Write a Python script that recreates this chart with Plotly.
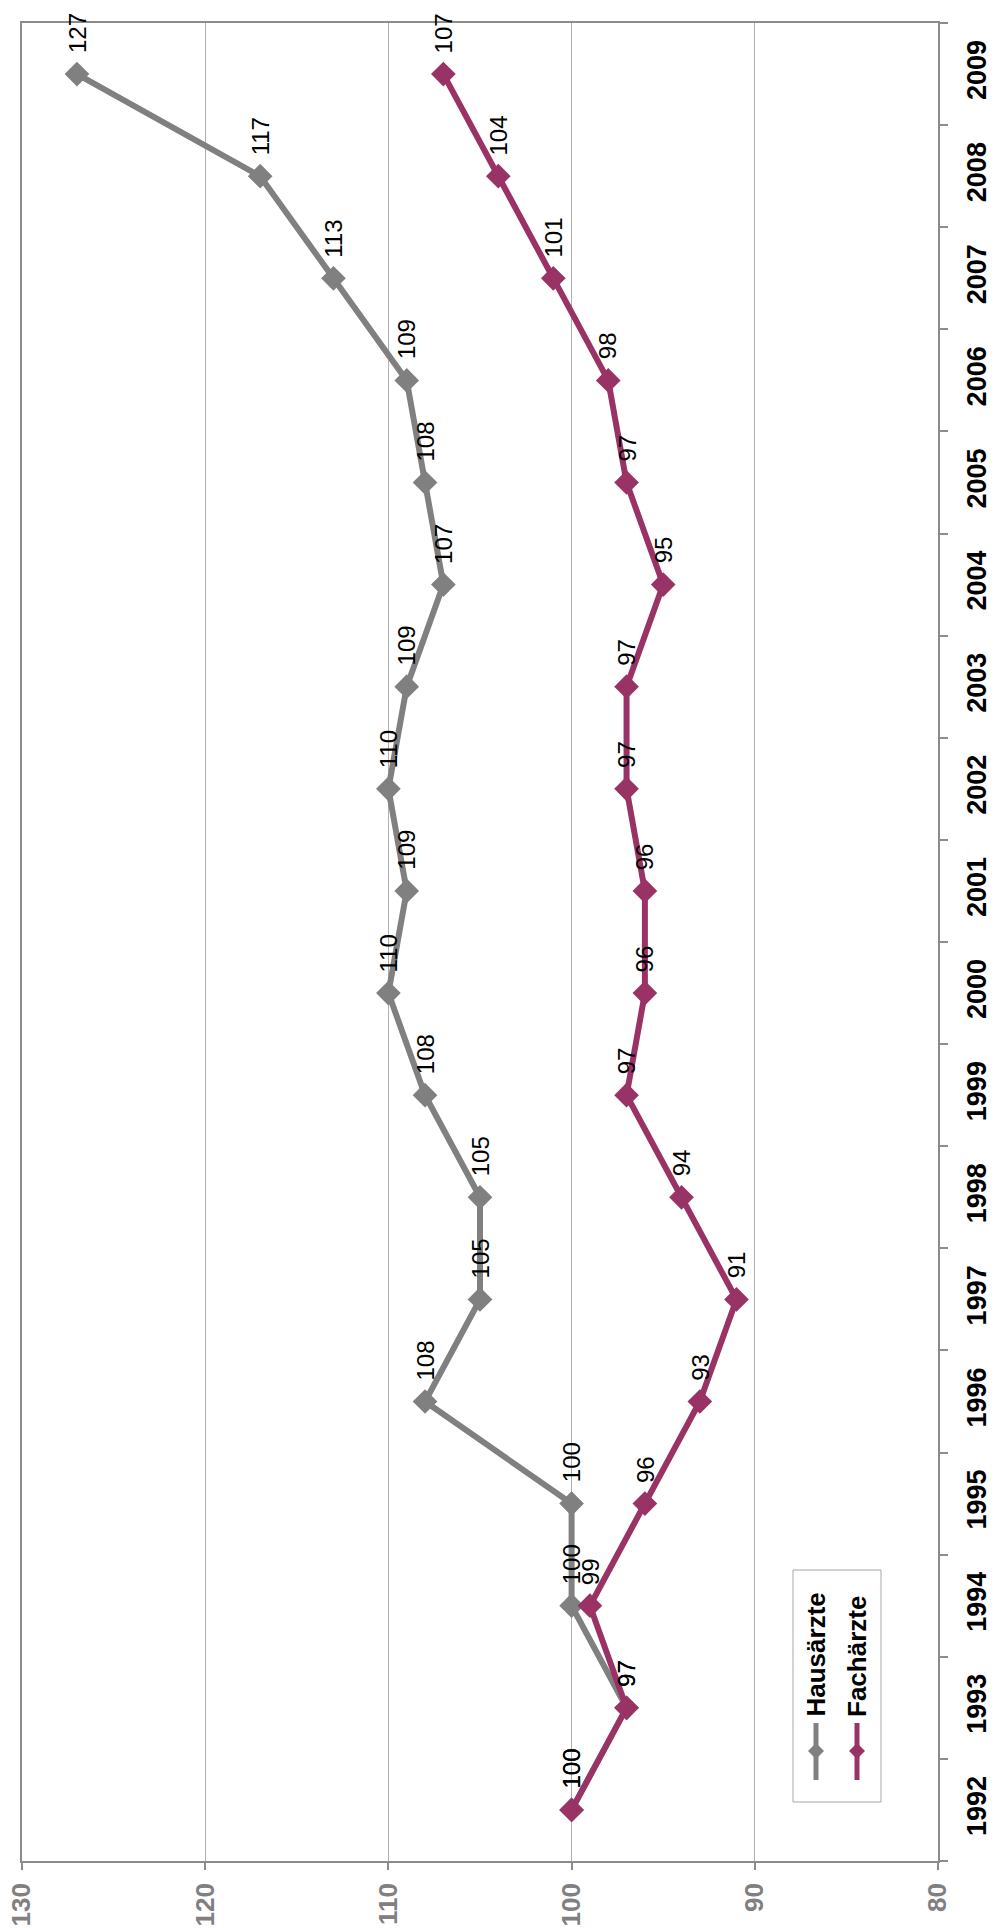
import plotly.graph_objects as go

# Index values (1992 = 100)
years = [str(y) for y in range(1992, 2010)]
hausaerzte = [100, 97, 100, 100, 108, 105, 105, 108, 110, 109, 110, 109, 107, 108, 109, 113, 117, 127]
fachaerzte = [100, 97, 99, 96, 93, 91, 94, 97, 96, 96, 97, 97, 95, 97, 98, 101, 104, 107]
value_ticks = [80, 90, 100, 110, 120, 130]
series_names = ["Hausärzte", "Fachärzte"]

GRAY = "#808080"
PLUM = "#993366"
AXIS = "#8c8c8c"
FONT = "Liberation Sans"

W, H = 995, 1928
L, R, T, B = 22, 938, 23, 1861


def px_x(px):
    return (px - L) / (R - L)


def px_y(py):
    return (B - py) / (B - T)


fig = go.Figure()

for name, vals, color in [(series_names[0], hausaerzte, GRAY), (series_names[1], fachaerzte, PLUM)]:
    fig.add_trace(go.Scatter(
        x=vals, y=years, name=name, mode="lines+markers",
        line=dict(color=color, width=6),
        marker=dict(symbol="diamond", size=19, color=color),
        showlegend=False,
    ))

# value labels, rotated along with the chart (category axis -> index positions)
annotations = []
for vals in (hausaerzte, fachaerzte):
    for i, v in enumerate(vals):
        annotations.append(dict(
            x=v, y=i, xref="x", yref="y", text=str(v), showarrow=False,
            textangle=-90, xanchor="center", yanchor="bottom", yshift=19,
            font=dict(family=FONT, size=24, color="black"),
        ))

# hand-drawn legend (rotated)
shapes = [dict(type="rect", xref="paper", yref="paper",
               x0=px_x(793), x1=px_x(881), y0=px_y(1802), y1=px_y(1570),
               line=dict(color="#a6a6a6", width=1), fillcolor="white", layer="above")]
for name, color, cx in [(series_names[0], GRAY, 816), (series_names[1], PLUM, 857)]:
    shapes.append(dict(type="line", xref="paper", yref="paper",
                       x0=px_x(cx), x1=px_x(cx), y0=px_y(1780), y1=px_y(1723),
                       line=dict(color=color, width=5), layer="above"))
    cy, r = 1751, 8
    path = "M {} {} L {} {} L {} {} L {} {} Z".format(
        px_x(cx), px_y(cy - r), px_x(cx + r), px_y(cy),
        px_x(cx), px_y(cy + r), px_x(cx - r), px_y(cy))
    shapes.append(dict(type="path", xref="paper", yref="paper", path=path,
                       fillcolor=color, line=dict(color=color, width=0), layer="above"))
    annotations.append(dict(
        x=px_x(cx - 0.5), y=px_y(1719), xref="paper", yref="paper", text=name,
        showarrow=False, textangle=-90, xanchor="center", yanchor="bottom",
        font=dict(family=FONT, size=26, color="black", weight="bold"),
    ))

fig.update_layout(
    width=W, height=H,
    margin=dict(l=L, r=W - R, t=T, b=H - B, autoexpand=False),
    paper_bgcolor="white", plot_bgcolor="white",
    annotations=annotations, shapes=shapes,
    xaxis=dict(
        range=[130, 80], tickvals=value_ticks, tickangle=-90,
        tickfont=dict(family=FONT, size=26, color=GRAY, weight="bold"),
        showgrid=True, gridcolor="#b0b0b0", gridwidth=1,
        ticks="outside", ticklen=7, tickcolor=AXIS, tickwidth=1.5,
        showline=True, linecolor=AXIS, linewidth=1.5, mirror=True,
        zeroline=False, ticklabelstandoff=3,
    ),
    yaxis=dict(
        type="category", categoryorder="array", categoryarray=years,
        range=[-0.5, len(years) - 0.5], side="right", tickangle=-90,
        tickfont=dict(family=FONT, size=27, color="black", weight="bold"),
        tickson="boundaries", ticks="outside", ticklen=8, tickcolor=AXIS, tickwidth=1.5,
        showline=True, linecolor=AXIS, linewidth=1.5, mirror=True,
        showgrid=False, zeroline=False, ticklabelstandoff=14,
    ),
)

fig.write_html("out.html")
